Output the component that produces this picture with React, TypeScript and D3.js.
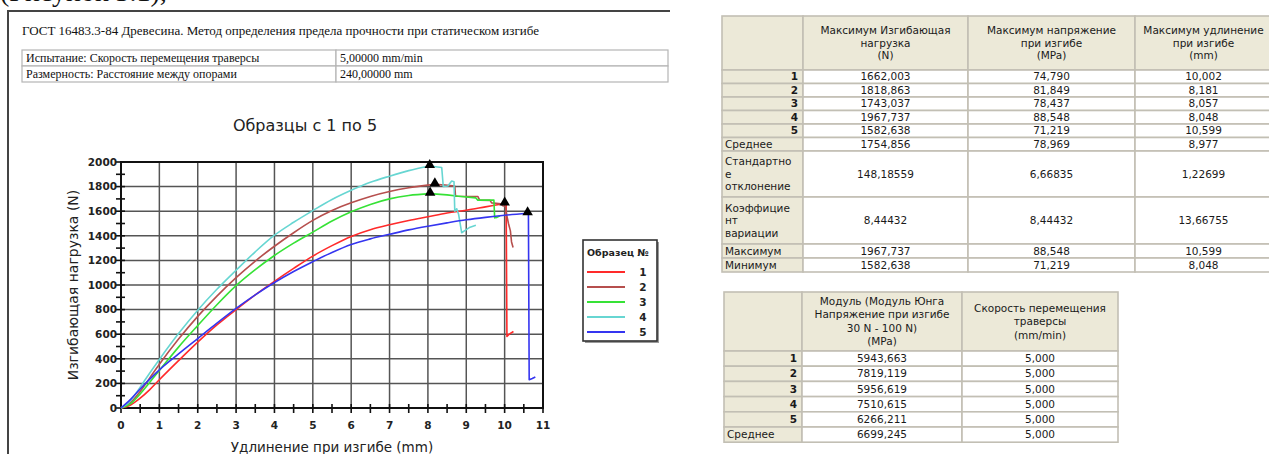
import React from "react";
import * as d3 from "d3";

// ---------------- data ----------------
const xTickValues = [0, 1, 2, 3, 4, 5, 6, 7, 8, 9, 10, 11];
const yTickValues = [0, 200, 400, 600, 800, 1000, 1200, 1400, 1600, 1800, 2000];
const sampleIds = ["1", "2", "3", "4", "5"];
const sampleColors = ["#ff2a2a", "#b64f4d", "#36e236", "#67d6d2", "#3535f0"];

// rising parts of the load / elongation curves (mm, N)
const rise1 = [[0, 0], [0.25, 25], [0.5, 80], [0.75, 150], [1, 230], [1.5, 385], [2, 535], [2.5, 675], [3, 800], [3.5, 920], [4, 1030], [4.5, 1135], [5, 1235], [5.5, 1320], [6, 1395], [6.5, 1450], [7, 1490], [7.5, 1525], [8, 1555], [8.5, 1585], [9, 1608], [9.5, 1635], [10.002, 1662]];
const rise2 = [[0, 0], [0.25, 45], [0.5, 135], [0.75, 245], [1, 355], [1.5, 560], [2, 745], [2.5, 910], [3, 1060], [3.5, 1195], [4, 1315], [4.5, 1425], [5, 1525], [5.5, 1605], [6, 1668], [6.5, 1720], [7, 1760], [7.5, 1790], [8, 1812], [8.181, 1819]];
const rise3 = [[0, 0], [0.25, 35], [0.5, 115], [0.75, 210], [1, 305], [1.5, 495], [2, 670], [2.5, 840], [3, 995], [3.5, 1125], [4, 1240], [4.5, 1340], [5, 1430], [5.5, 1520], [6, 1595], [6.5, 1655], [7, 1700], [7.5, 1728], [8.057, 1743]];
const rise4 = [[0, 0], [0.25, 60], [0.5, 170], [0.75, 285], [1, 395], [1.5, 605], [2, 795], [2.5, 965], [3, 1120], [3.5, 1270], [4, 1405], [4.5, 1510], [5, 1605], [5.5, 1695], [6, 1770], [6.5, 1835], [7, 1885], [7.5, 1930], [8.048, 1968]];
const rise5 = [[0, 0], [0.25, 70], [0.5, 155], [0.75, 235], [1, 310], [1.5, 440], [2, 565], [2.5, 690], [3, 810], [3.5, 920], [4, 1020], [4.5, 1110], [5, 1190], [5.5, 1265], [6, 1330], [6.5, 1375], [7, 1412], [7.5, 1448], [8, 1478], [8.5, 1505], [9, 1530], [9.5, 1550], [10, 1567], [10.599, 1583]];

// after-peak (failure) parts
const tail1 = [[10.002, 1662], [10.04, 1650], [10.06, 581], [10.12, 600], [10.23, 622]];
const tail2 = [[8.181, 1819], [8.45, 1812], [8.7, 1804], [8.72, 1722], [9.3, 1720], [9.35, 1690], [9.62, 1688], [9.66, 1668], [9.9, 1660], [9.95, 1645], [10.02, 1640], [10.06, 1560], [10.1, 1500], [10.15, 1440], [10.18, 1350], [10.22, 1305]];
const tail3 = [[8.057, 1743], [8.5, 1733], [8.8, 1722], [9.25, 1708], [9.3, 1690], [9.72, 1690], [9.74, 1546], [9.8, 1550], [9.88, 1562]];
const tail4 = [[8.048, 1968], [8.2, 1962], [8.36, 1955], [8.4, 1802], [8.52, 1805], [8.62, 1845], [8.68, 1840], [8.7, 1600], [8.75, 1620], [8.8, 1575], [8.88, 1425], [8.95, 1440], [9.1, 1470], [9.25, 1485]];
const tail5 = [[10.599, 1583], [10.62, 1575], [10.64, 230], [10.72, 240], [10.8, 252]];

const rises = [rise1, rise2, rise3, rise4, rise5];
const tails = [tail1, tail2, tail3, tail4, tail5];

// results table
const peakLoad = ["1662,003", "1818,863", "1743,037", "1967,737", "1582,638"];
const peakStress = ["74,790", "81,849", "78,437", "88,548", "71,219"];
const peakElong = ["10,002", "8,181", "8,057", "8,048", "10,599"];
const statLabels = [["Среднее"], ["Стандартно", "е", "отклонение"], ["Коэффицие", "нт", "вариации"], ["Максимум"], ["Минимум"]];
const statLoad = ["1754,856", "148,18559", "8,44432", "1967,737", "1582,638"];
const statStress = ["78,969", "6,66835", "8,44432", "88,548", "71,219"];
const statElong = ["8,977", "1,22699", "13,66755", "10,599", "8,048"];
const header1 = [[""], ["Максимум Изгибающая", "нагрузка", "(N)"], ["Максимум напряжение", "при изгибе", "(MPa)"], ["Максимум удлинение", "при изгибе", "(mm)"]];

const modulus = ["5943,663", "7819,119", "5956,619", "7510,615", "6266,211"];
const speed = ["5,000", "5,000", "5,000", "5,000", "5,000"];
const modulusMean = "6699,245";
const speedMean = "5,000";
const header2 = [[""], ["Модуль (Модуль Юнга", "Напряжение при изгибе", "30 N - 100 N)", "(MPa)"], ["Скорость перемещения", "траверсы", "(mm/min)"]];

const docTitle = "ГОСТ 16483.3-84 Древесина. Метод определения предела прочности при статическом изгибе";
const infoRows = [["Испытание: Скорость перемещения траверсы", "5,00000 mm/min"], ["Размерность: Расстояние между опорами", "240,00000 mm"]];

const parse = (s: string) => +s.replace(",", ".");

// ---------------- layout ----------------
const W = 1269, H = 454;
const PL = 121, PR = 543, PT = 162, PB = 408;
const chartFont = "'DejaVu Sans', Verdana, sans-serif";
const tableFont = "'DejaVu Sans', Tahoma, sans-serif";
const serif = "'Liberation Serif', 'Times New Roman', serif";
const BEIGE = "#ece9d8";
const GRIDC = "#c2bfb4";

type Cell = { lines: string[]; bg: string; align: "left" | "right" | "center"; bold?: boolean };

function Table({ cols, top, heights, cells, lineH }: { cols: number[]; top: number; heights: number[]; cells: Cell[][]; lineH: number }) {
  const ys: number[] = [top];
  heights.forEach((h) => ys.push(ys[ys.length - 1] + h));
  const out: JSX.Element[] = [];
  cells.forEach((row, r) => {
    row.forEach((cell, c) => {
      const x0 = cols[c], x1 = cols[c + 1], y0 = ys[r], y1 = ys[r + 1];
      out.push(<rect key={`r${r}-${c}`} x={x0} y={y0} width={x1 - x0} height={y1 - y0} fill={cell.bg} stroke={GRIDC} strokeWidth={1.6} />);
      const n = cell.lines.length;
      const cy = (y0 + y1) / 2;
      cell.lines.forEach((t, i) => {
        const ty = cy + (i - (n - 1) / 2) * lineH;
        const tx = cell.align === "left" ? x0 + 3 : cell.align === "right" ? x1 - 5 : (x0 + x1) / 2;
        out.push(
          <text key={`t${r}-${c}-${i}`} x={tx} y={ty} dy="0.35em" textAnchor={cell.align === "left" ? "start" : cell.align === "right" ? "end" : "middle"}
            fontFamily={tableFont} fontSize={10.5} fontWeight={cell.bold ? "bold" : "normal"} fill="#1a1a1a">{t}</text>
        );
      });
    });
  });
  return <g>{out}</g>;
}

export default function App() {
  const x = d3.scaleLinear().domain([0, 11]).range([PL, PR]);
  const y = d3.scaleLinear().domain([0, 2000]).range([PB, PT]);
  const smooth = d3.line<number[]>().x((d) => x(d[0])).y((d) => y(d[1])).curve(d3.curveMonotoneX);
  const straight = d3.line<number[]>().x((d) => x(d[0])).y((d) => y(d[1]));
  const tri = d3.symbol().type(d3.symbolTriangle).size(48)();

  const xMinor = d3.range(0, 11.01, 0.5);
  const yMinor = d3.range(0, 2001, 100);

  // table 1 cells
  const hdr1: Cell[] = header1.map((l) => ({ lines: l, bg: BEIGE, align: "center" }));
  const rows1: Cell[][] = sampleIds.map((id, i) => [
    { lines: [id], bg: BEIGE, align: "right", bold: true },
    { lines: [peakLoad[i]], bg: "#fff", align: "center" },
    { lines: [peakStress[i]], bg: "#fff", align: "center" },
    { lines: [peakElong[i]], bg: "#fff", align: "center" },
  ]);
  const stats1: Cell[][] = statLabels.map((lab, i) => [
    { lines: lab, bg: BEIGE, align: "left" },
    { lines: [statLoad[i]], bg: "#fff", align: "center" },
    { lines: [statStress[i]], bg: "#fff", align: "center" },
    { lines: [statElong[i]], bg: "#fff", align: "center" },
  ]);
  const cells1 = [hdr1, ...rows1, ...stats1];
  const heights1 = [54, 13.5, 13.5, 13.5, 13.5, 13.5, 13.5, 46, 47, 14, 14];

  const hdr2: Cell[] = header2.map((l) => ({ lines: l, bg: BEIGE, align: "center" }));
  const rows2: Cell[][] = sampleIds.map((id, i) => [
    { lines: [id], bg: BEIGE, align: "right", bold: true },
    { lines: [modulus[i]], bg: "#fff", align: "center" },
    { lines: [speed[i]], bg: "#fff", align: "center" },
  ]);
  const cells2 = [hdr2, ...rows2, [
    { lines: ["Среднее"], bg: BEIGE, align: "left" },
    { lines: [modulusMean], bg: "#fff", align: "center" },
    { lines: [speedMean], bg: "#fff", align: "center" },
  ] as Cell[]];
  const heights2 = [59, 15.2, 15.2, 15.2, 15.2, 15.2, 15.2];

  return (
    <svg width={W} height={H} style={{ position: "absolute", left: 0, top: 0, background: "#fff" }}>
      {/* cut-off text of the previous line of the document */}
      <text x={0} y={0.5} fontFamily={serif} fontSize={28} fill="#111">(Рисунок 3.1),</text>
      {/* document frame */}
      <line x1={7} y1={11} x2={670} y2={11} stroke="#444" strokeWidth={2} />
      <line x1={8} y1={11} x2={8} y2={H} stroke="#444" strokeWidth={2} />

      <text x={22} y={35} fontFamily={serif} fontSize={13} fill="#111">{docTitle}</text>
      {infoRows.map((r, i) => (
        <g key={i}>
          <rect x={22} y={50 + i * 16} width={314} height={16} fill="#fff" stroke="#b5b5b5" strokeWidth={1.2} />
          <rect x={336} y={50 + i * 16} width={332} height={16} fill="#fff" stroke="#b5b5b5" strokeWidth={1.2} />
          <text x={26} y={62 + i * 16} fontFamily={serif} fontSize={12} fill="#111">{r[0]}</text>
          <text x={340} y={62 + i * 16} fontFamily={serif} fontSize={12} fill="#111">{r[1]}</text>
        </g>
      ))}

      {/* chart title */}
      <text x={305} y={131} textAnchor="middle" fontFamily={chartFont} fontSize={16} fill="#222">Образцы с 1 по 5</text>

      {/* grid */}
      {xTickValues.slice(1, -1).map((v) => (
        <line key={`gx${v}`} x1={x(v)} x2={x(v)} y1={PT} y2={PB} stroke="#555" strokeWidth={1.5} />
      ))}
      {yTickValues.slice(1, -1).map((v) => (
        <line key={`gy${v}`} x1={PL} x2={PR} y1={y(v)} y2={y(v)} stroke="#555" strokeWidth={1.5} />
      ))}
      <rect x={PL} y={PT} width={PR - PL} height={PB - PT} fill="none" stroke="#111" strokeWidth={2} />

      {/* ticks */}
      {yMinor.map((v) => (
        <line key={`ty${v}`} x1={PL - 5} x2={PL + 4} y1={y(v)} y2={y(v)} stroke="#111" strokeWidth={1.6} />
      ))}
      {xMinor.map((v) => (
        <line key={`tx${v}`} x1={x(v)} x2={x(v)} y1={PB - 4} y2={PB + 5} stroke="#111" strokeWidth={1.6} />
      ))}
      {yTickValues.map((v) => (
        <text key={`ly${v}`} x={PL - 4} y={y(v)} dy="0.36em" textAnchor="end" fontFamily={chartFont} fontSize={10.5} fontWeight="bold" fill="#222">{v}</text>
      ))}
      {xTickValues.map((v) => (
        <text key={`lx${v}`} x={x(v)} y={429} textAnchor="middle" fontFamily={chartFont} fontSize={10.5} fontWeight="bold" fill="#222">{v}</text>
      ))}

      {/* axis titles */}
      <text transform={`translate(78,${(PT + PB) / 2}) rotate(-90)`} textAnchor="middle" fontFamily={chartFont} fontSize={14} fill="#222">Изгибающая нагрузка (N)</text>
      <text x={(PL + PR) / 2} y={452} textAnchor="middle" fontFamily={chartFont} fontSize={13.5} fill="#222">Удлинение при изгибе (mm)</text>

      {/* curves */}
      {rises.map((r, i) => (
        <g key={`s${i}`}>
          <path d={smooth(r) || ""} fill="none" stroke={sampleColors[i]} strokeWidth={1.6} />
          <path d={straight(tails[i]) || ""} fill="none" stroke={sampleColors[i]} strokeWidth={1.6} strokeLinejoin="round" />
        </g>
      ))}
      {/* peak markers */}
      {peakElong.map((e, i) => (
        <path key={`m${i}`} d={tri || ""} transform={`translate(${x(parse(e))},${y(parse(peakLoad[i])) - 1})`} fill="#000" />
      ))}

      {/* legend */}
      <rect x={585} y={242} width={74} height={101} fill="#9a9a9a" />
      <rect x={583} y={240} width={74} height={101} fill="#fff" stroke="#333" strokeWidth={1.6} />
      <text x={587} y={256} fontFamily={chartFont} fontSize={9.5} fontWeight="bold" fill="#222">Образец №</text>
      {sampleIds.map((id, i) => (
        <g key={`lg${i}`}>
          <line x1={587} x2={625} y1={272 + i * 15} y2={272 + i * 15} stroke={sampleColors[i]} strokeWidth={2} />
          <text x={643} y={272 + i * 15} dy="0.36em" textAnchor="middle" fontFamily={chartFont} fontSize={10.5} fontWeight="bold" fill="#222">{id}</text>
        </g>
      ))}

      {/* result tables */}
      <Table cols={[722, 803, 968, 1135, 1272]} top={16} heights={heights1} cells={cells1} lineH={12.5} />
      <Table cols={[724, 802, 962, 1118]} top={292} heights={heights2} cells={cells2} lineH={13.5} />
    </svg>
  );
}
